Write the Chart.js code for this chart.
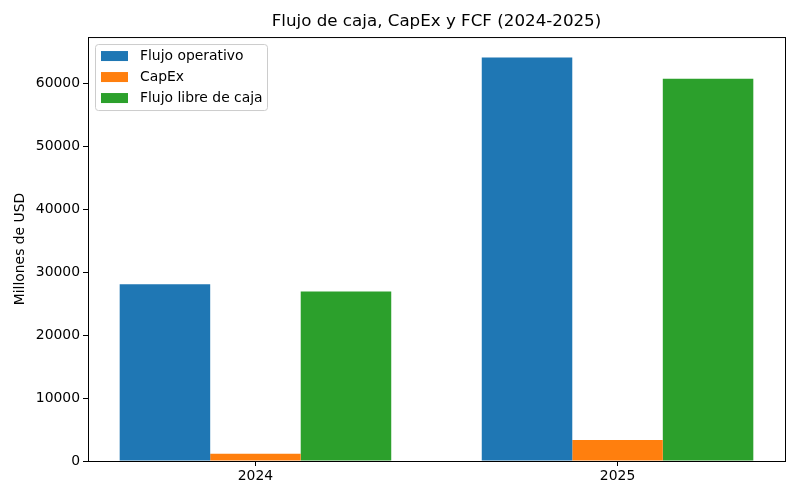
<!DOCTYPE html>
<html>
<head>
<meta charset="utf-8">
<script src="https://cdn.jsdelivr.net/npm/chart.js@4.4.1/dist/chart.umd.min.js"></script>
<style>
  html, body { margin: 0; padding: 0; background: #fff; }
  #wrap { width: 800px; height: 500px; }
</style>
</head>
<body>
<div id="wrap"><canvas id="grafico"></canvas></div>
<script>
// Datos del gráfico (millones de USD)
const anios = ['2024', '2025'];
const flujoOperativo = [28100, 64150];
const capex = [1150, 3330];
const flujoLibre = [26950, 60750];
const marcasY = [0, 10000, 20000, 30000, 40000, 50000, 60000];

const nombres = ['Flujo operativo', 'CapEx', 'Flujo libre de caja'];
const colores = ['#1f77b4', '#ff7f0e', '#2ca02c'];

const fuente = 'DejaVu Sans';

// Pasar cada serie a puntos {x, y} sobre el índice del año
const aPuntos = (serie) => serie.map((v, i) => ({ x: i, y: v }));

// Marco completo alrededor del área del gráfico
const marco = {
    id: 'marco',
    afterDraw(chart) {
        const { ctx, chartArea: a } = chart;
        ctx.save();
        ctx.strokeStyle = '#000';
        ctx.lineWidth = 1;
        ctx.strokeRect(a.left + 0.5, a.top + 0.5, a.right - a.left, a.bottom - a.top);
        ctx.restore();
    }
};

// Leyenda dentro del área, arriba a la izquierda
const leyenda = {
    id: 'leyenda',
    afterDraw(chart) {
        const { ctx, chartArea: a } = chart;
        const x = a.left + 7, y = a.top + 7;
        const w = 172, h = 66;
        ctx.save();
        ctx.fillStyle = 'rgba(255,255,255,0.8)';
        ctx.strokeStyle = '#cccccc';
        ctx.lineWidth = 1;
        ctx.beginPath();
        ctx.roundRect(x + 0.5, y + 0.5, w, h, 3);
        ctx.fill();
        ctx.stroke();
        ctx.font = '13.9px "' + fuente + '"';
        ctx.textBaseline = 'middle';
        chart.data.datasets.forEach((ds, i) => {
            const cy = y + 12 + i * 21;
            ctx.fillStyle = ds.backgroundColor;
            ctx.fillRect(x + 6, cy - 5, 27, 10);
            ctx.fillStyle = '#000';
            ctx.fillText(ds.label, x + 45, cy);
        });
        ctx.restore();
    }
};

const ctx = document.getElementById('grafico').getContext('2d');
new Chart(ctx, {
    type: 'bar',
    data: {
        datasets: [
            { label: nombres[0], data: aPuntos(flujoOperativo), backgroundColor: colores[0] },
            { label: nombres[1], data: aPuntos(capex), backgroundColor: colores[1] },
            { label: nombres[2], data: aPuntos(flujoLibre), backgroundColor: colores[2] }
        ]
    },
    options: {
        responsive: true,
        maintainAspectRatio: false,
        animation: false,
        devicePixelRatio: 1,
        layout: { padding: { left: 0, right: 15, top: 0, bottom: 0 } },
        datasets: {
            bar: { categoryPercentage: 0.75, barPercentage: 1.0, borderWidth: 0, grouped: true }
        },
        plugins: {
            legend: { display: false },
            tooltip: { enabled: false },
            title: {
                display: true,
                fullSize: false,
                text: 'Flujo de caja, CapEx y FCF (2024-2025)',
                color: '#000',
                font: { family: fuente, size: 16.7, weight: 'normal' },
                padding: { top: 12, bottom: 5 }
            }
        },
        scales: {
            x: {
                type: 'linear',
                min: -0.4625,
                max: 1.4625,
                offset: false,
                afterBuildTicks: (s) => { s.ticks = anios.map((_, i) => ({ value: i })); },
                afterFit: (s) => { s.height = 39; },
                ticks: {
                    callback: (v) => anios[v],
                    color: '#000',
                    padding: 2,
                    maxRotation: 0,
                    font: { family: fuente, size: 13.9 }
                },
                grid: { offset: false, drawOnChartArea: false, drawTicks: true, tickLength: 5, color: '#000' },
                border: { display: false }
            },
            y: {
                min: 0,
                max: 67400,
                afterBuildTicks: (s) => { s.ticks = marcasY.map(v => ({ value: v })); },
                afterFit: (s) => { s.width = 88; },
                ticks: {
                    callback: (v) => String(v),
                    color: '#000',
                    padding: 3,
                    font: { family: fuente, size: 13.9 }
                },
                title: {
                    display: true,
                    text: 'Millones de USD',
                    color: '#000',
                    font: { family: fuente, size: 13.9 },
                    padding: { top: 12, bottom: 0 }
                },
                grid: { drawOnChartArea: false, drawTicks: true, tickLength: 5, color: '#000' },
                border: { display: false }
            }
        }
    },
    plugins: [marco, leyenda]
});
</script>
</body>
</html>
